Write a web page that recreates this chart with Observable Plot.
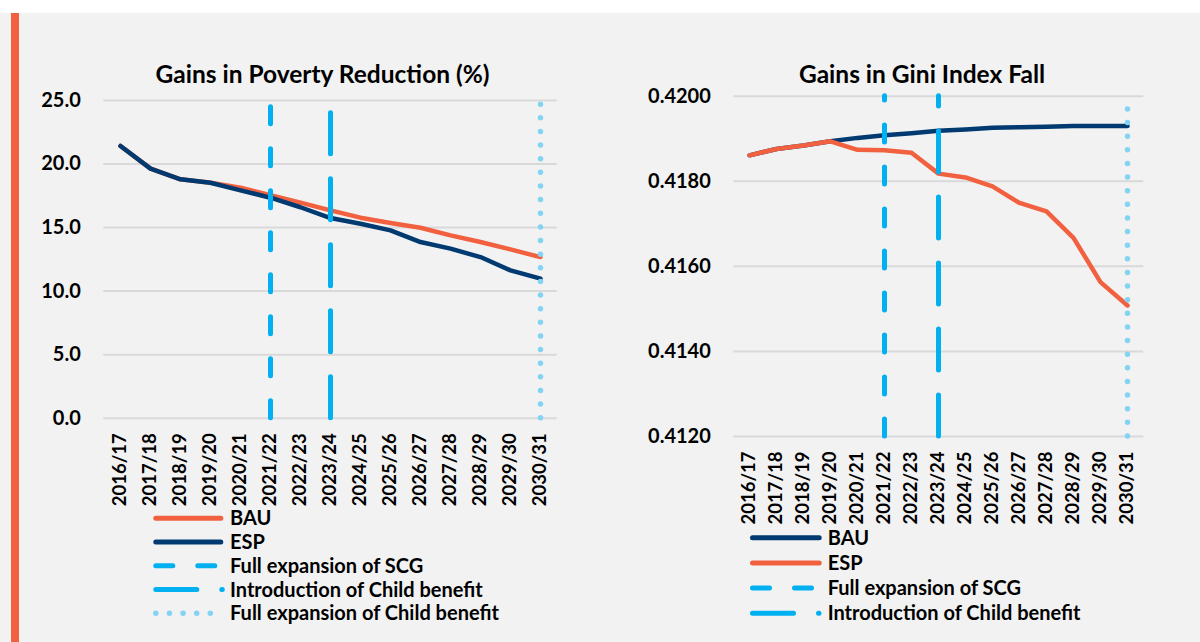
<!DOCTYPE html>
<html>
<head>
<meta charset="utf-8">
<script src="https://cdn.jsdelivr.net/npm/d3@7"></script>
<script src="https://cdn.jsdelivr.net/npm/@observablehq/plot@0.6"></script>
<style>
  html, body { margin: 0; padding: 0; background: #ffffff; }
  #page { position: relative; width: 1200px; height: 642px; overflow: hidden; background: #ffffff; }
  #panel { position: absolute; left: 0; top: 13px; width: 1200px; height: 629px; background: #f2f2f2; }
  #accent { position: absolute; left: 11px; top: 13px; width: 8px; height: 629px; background: #f2613f; }
  .chart { position: absolute; top: 0; }
  #overlay { position: absolute; left: 0; top: 0; }
</style>
</head>
<body>
<div id="page">
  <div id="panel"></div>
  <div id="accent"></div>
  <div id="left" class="chart" style="left:0px"></div>
  <div id="right" class="chart" style="left:600px"></div>
  <svg id="overlay" width="1200" height="642"></svg>
</div>
<script>
// Financial years on the horizontal axis
const years = ["2016/17","2017/18","2018/19","2019/20","2020/21","2021/22","2022/23",
               "2023/24","2024/25","2025/26","2026/27","2027/28","2028/29","2029/30","2030/31"];

// Poverty headcount (%)
const povertyBAU = [21.42, 19.64, 18.80, 18.53, 18.14, 17.54, 16.96, 16.35, 15.78, 15.36, 14.99, 14.39, 13.86, 13.28, 12.68];
const povertyESP = [21.42, 19.64, 18.80, 18.53, 17.93, 17.35, 16.60, 15.75, 15.30, 14.78, 13.86, 13.34, 12.68, 11.63, 10.98];
const povertyTicks = [0, 5, 10, 15, 20, 25];

// Gini index
const giniBAU = [0.41861, 0.41876, 0.41884, 0.41894, 0.41902, 0.41908, 0.41913, 0.41919, 0.41922, 0.41926, 0.41927, 0.41928, 0.41930, 0.41930, 0.41930];
const giniESP = [0.41861, 0.41876, 0.41884, 0.41894, 0.41874, 0.41873, 0.41867, 0.41818, 0.41809, 0.41788, 0.41749, 0.41729, 0.41667, 0.41563, 0.41508];
const giniTicks = [0.412, 0.414, 0.416, 0.418, 0.420];

// Policy milestones marked with vertical lines
const scgYear = ["2021/22"];        // Full expansion of SCG
const childIntroYear = ["2023/24"]; // Introduction of Child benefit
const childFullYear = ["2030/31"];  // Full expansion of Child benefit

const FONT = "Lato, 'Open Sans', 'DejaVu Sans', sans-serif";
const ORANGE = "#f2613f";
const NAVY = "#003a70";
const BLUE = "#00b0f0";
const LIGHTBLUE = "#83d3f3";
const GRID = "#d9d9d9";

const styles = {
  scg:   {stroke: BLUE, strokeWidth: 5, strokeLinecap: "round", strokeDasharray: "17,25"},
  intro: {stroke: BLUE, strokeWidth: 5, strokeLinecap: "round", strokeDasharray: "41,25"},
  full:  {stroke: LIGHTBLUE, strokeWidth: 5.5, strokeLinecap: "round", strokeDasharray: "0,13.63"}
};

const rows = (values) => years.map((year, i) => ({year, value: values[i]}));

function chart({width, height, margins, domain, ticks, format, first, second}) {
  const [lo, hi] = domain;
  return Plot.plot({
    width, height,
    marginLeft: margins[0], marginRight: margins[1], marginTop: margins[2], marginBottom: margins[3],
    style: {background: "transparent", fontFamily: FONT, fontSize: "20px", fontWeight: "bold", color: "#000", overflow: "visible"},
    x: {type: "point", domain: years, padding: 0.5, label: null},
    y: {domain, label: null},
    marks: [
      Plot.gridY(ticks, {stroke: GRID, strokeOpacity: 1, strokeWidth: 2}),
      Plot.axisY(ticks, {tickSize: 0, tickPadding: 23, tickFormat: format, label: null, fill: "#000"}),
      Plot.axisX({tickSize: 0, tickPadding: 15, tickRotate: -90, label: null, fill: "#000", fontSize: 18.5}),
      Plot.line(rows(first.values), {x: "year", y: "value", stroke: first.color, strokeWidth: 4.5}),
      Plot.line(rows(second.values), {x: "year", y: "value", stroke: second.color, strokeWidth: 4.5}),
      Plot.ruleX(scgYear, {x: d => d, y1: () => lo, y2: () => hi, ...styles.scg}),
      Plot.ruleX(childIntroYear, {x: d => d, y1: () => lo, y2: () => hi, ...styles.intro}),
      Plot.ruleX(childFullYear, {x: d => d, y1: () => lo, y2: () => hi, ...styles.full})
    ]
  });
}

document.getElementById("left").append(chart({
  width: 600, height: 520,
  margins: [103.3, 43.3, 100, 102.3],
  domain: [0, 25], ticks: povertyTicks, format: d => d.toFixed(1),
  first: {values: povertyBAU, color: ORANGE},
  second: {values: povertyESP, color: NAVY}
}));

document.getElementById("right").append(chart({
  width: 600, height: 540,
  margins: [133.3, 56.7, 95.7, 104],
  domain: [0.412, 0.420], ticks: giniTicks, format: d => d.toFixed(4),
  first: {values: giniBAU, color: NAVY},
  second: {values: giniESP, color: ORANGE}
}));

// Titles and legends
const svg = d3.select("#overlay")
  .style("font-family", FONT).style("font-weight", "bold").attr("fill", "#000");

svg.append("text").attr("x", 322.5).attr("y", 83).attr("text-anchor", "middle")
  .style("font-size", "24.5px").text("Gains in Poverty Reduction (%)");
svg.append("text").attr("x", 922).attr("y", 83).attr("text-anchor", "middle")
  .style("font-size", "24.5px").text("Gains in Gini Index Fall");

function legend(x, textX, y0, step, items) {
  items.forEach((item, i) => {
    const y = y0 + i * step;
    const s = item.style;
    svg.append("line")
      .attr("x1", x + 2.5).attr("x2", x + item.len - 2.5)
      .attr("y1", y).attr("y2", y)
      .attr("stroke", s.stroke).attr("stroke-width", s.strokeWidth)
      .attr("stroke-linecap", "round")
      .attr("stroke-dasharray", s.strokeDasharray || null);
    svg.append("text").attr("x", textX).attr("y", y + 7)
      .style("font-size", "20px").text(item.label);
  });
}

const solid = (color) => ({stroke: color, strokeWidth: 5});

legend(153.3, 230, 518.3, 23.75, [
  {label: "BAU", style: solid(ORANGE), len: 70},
  {label: "ESP", style: solid(NAVY), len: 70},
  {label: "Full expansion of SCG", style: styles.scg, len: 70},
  {label: "Introduction of Child benefit", style: styles.intro, len: 71.5},
  {label: "Full expansion of Child benefit", style: styles.full, len: 60}
]);

legend(750, 827.7, 537.7, 25.2, [
  {label: "BAU", style: solid(NAVY), len: 71.7},
  {label: "ESP", style: solid(ORANGE), len: 71.7},
  {label: "Full expansion of SCG", style: styles.scg, len: 71.7},
  {label: "Introduction of Child benefit", style: styles.intro, len: 71.5}
]);
</script>
</body>
</html>
